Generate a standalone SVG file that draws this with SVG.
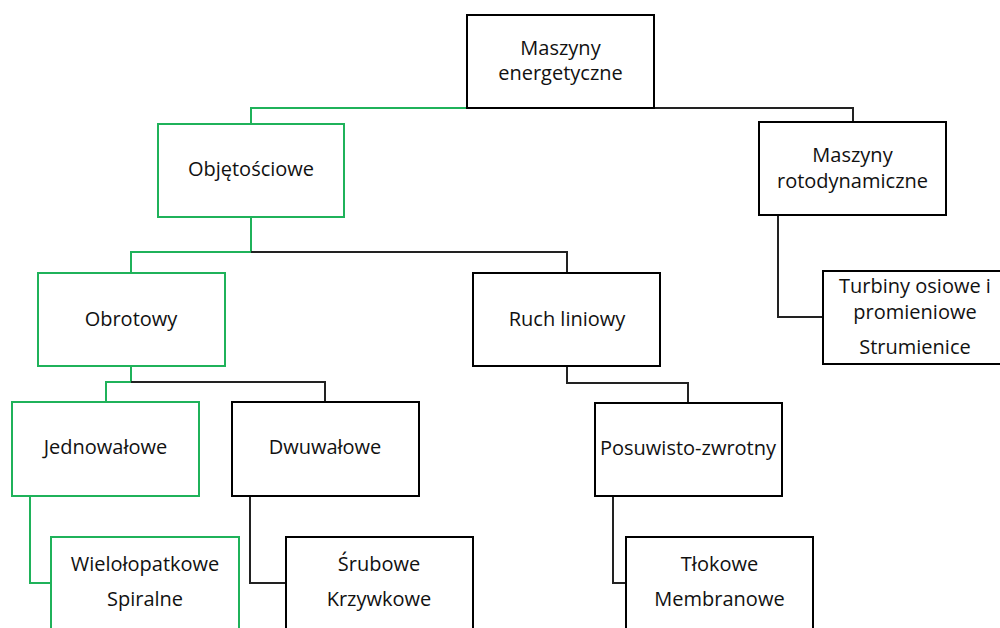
<svg xmlns="http://www.w3.org/2000/svg" width="1000" height="628" viewBox="0 0 1000 628">
<style>
.b{fill:#fff;stroke:#000;stroke-width:2}
.g{fill:#fff;stroke:#1fb25a;stroke-width:2}
.lk{fill:none;stroke:#222;stroke-width:2}
.lg{fill:none;stroke:#1fb25a;stroke-width:2}
text{font-family:"Open Sans","Noto Sans","Liberation Sans",sans-serif;font-size:20px;fill:#111;text-anchor:middle}
</style>
<rect width="1000" height="628" fill="#fff"/>
<g id="connectors">
<polyline class="lg" points="467,108 251,108 251,124"/>
<polyline class="lk" points="654,108 853,108 853,122"/>
<polyline class="lg" points="251,217 251,252 131,252 131,273"/>
<polyline class="lk" points="251,252 567,252 567,273"/>
<polyline class="lk" points="778,215 778,317 823,317"/>
<polyline class="lg" points="131,366 131,382 106,382 106,402"/>
<polyline class="lk" points="131,382 325,382 325,402"/>
<polyline class="lk" points="567,366 567,383 688,383 688,403"/>
<polyline class="lg" points="30,496 30,583 51,583"/>
<polyline class="lk" points="250,496 250,583 286,583"/>
<polyline class="lk" points="613,496 613,583 626,583"/>
</g>
<g id="n-energetyczne">
<rect class="b" x="467" y="15" width="187" height="93"/>
<text x="560.5" y="55">Maszyny</text>
<text x="560.5" y="80">energetyczne</text>
</g>
<g id="n-objetosciowe">
<rect class="g" x="158" y="124" width="186" height="93"/>
<text x="251" y="176">Objętościowe</text>
</g>
<g id="n-rotodynamiczne">
<rect class="b" x="759" y="122" width="187" height="93"/>
<text x="852.5" y="162">Maszyny</text>
<text x="852.5" y="188">rotodynamiczne</text>
</g>
<g id="n-turbiny">
<rect class="b" x="823" y="271" width="190" height="93"/>
<text x="915" y="293">Turbiny osiowe i</text>
<text x="915" y="319">promieniowe</text>
<text x="915" y="354">Strumienice</text>
</g>
<g id="n-obrotowy">
<rect class="g" x="38" y="273" width="187" height="93"/>
<text x="131" y="326">Obrotowy</text>
</g>
<g id="n-ruch">
<rect class="b" x="473" y="273" width="187" height="93"/>
<text x="567" y="326">Ruch liniowy</text>
</g>
<g id="n-jednowalowe">
<rect class="g" x="12" y="402" width="187" height="94"/>
<text x="105.5" y="454">Jednowałowe</text>
</g>
<g id="n-dwuwalowe">
<rect class="b" x="232" y="402" width="187" height="94"/>
<text x="325" y="454">Dwuwałowe</text>
</g>
<g id="n-posuwisto">
<rect class="b" x="595" y="403" width="187" height="93"/>
<text x="688" y="455">Posuwisto-zwrotny</text>
</g>
<g id="n-wielolopatkowe">
<rect class="g" x="51" y="537" width="188" height="100"/>
<text x="145" y="571">Wielołopatkowe</text>
<text x="145" y="606">Spiralne</text>
</g>
<g id="n-srubowe">
<rect class="b" x="286" y="537" width="187" height="100"/>
<text x="379" y="571">Śrubowe</text>
<text x="379" y="606">Krzywkowe</text>
</g>
<g id="n-tlokowe">
<rect class="b" x="626" y="537" width="187" height="100"/>
<text x="719.5" y="571">Tłokowe</text>
<text x="719.5" y="606">Membranowe</text>
</g>
</svg>
